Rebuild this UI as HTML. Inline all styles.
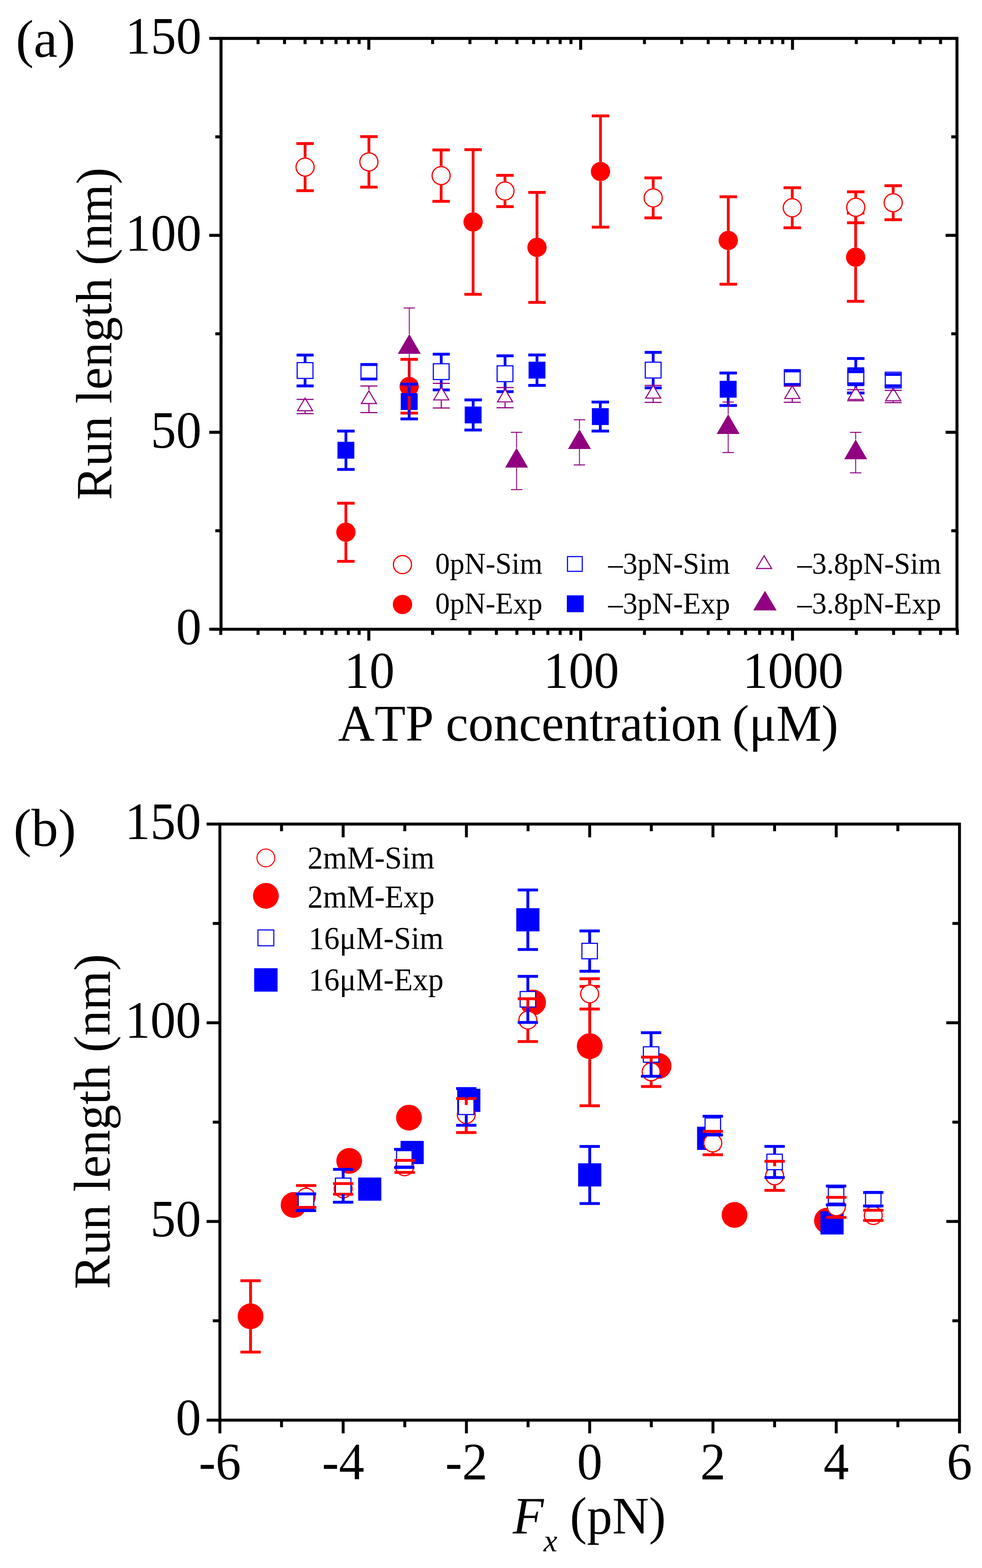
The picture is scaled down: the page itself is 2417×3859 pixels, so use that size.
<!DOCTYPE html>
<html><head><meta charset="utf-8"><title>Run length figure</title>
<style>
html,body{margin:0;padding:0;background:#fff;}
svg{display:block;}
text{font-family:"Liberation Serif","Times New Roman",serif;fill:#000;font-kerning:none;font-feature-settings:"kern" 0;}
</style></head><body>
<svg width="2417" height="3859" viewBox="0 0 2417 3859">
<rect width="2417" height="3859" fill="#fff"/>
<path d="M544,94.5 H2355.4 V1548.6 H544 Z" fill="none" stroke="#000" stroke-width="7.4" stroke-linejoin="miter"/>
<line x1="515.0" y1="1548.6" x2="544.0" y2="1548.6" stroke="#000" stroke-width="7.4" stroke-linecap="butt"/>
<line x1="515.0" y1="1063.9" x2="544.0" y2="1063.9" stroke="#000" stroke-width="7.4" stroke-linecap="butt"/>
<line x1="515.0" y1="579.2" x2="544.0" y2="579.2" stroke="#000" stroke-width="7.4" stroke-linecap="butt"/>
<line x1="515.0" y1="94.5" x2="544.0" y2="94.5" stroke="#000" stroke-width="7.4" stroke-linecap="butt"/>
<line x1="530.0" y1="1306.2" x2="544.0" y2="1306.2" stroke="#000" stroke-width="7.4" stroke-linecap="butt"/>
<line x1="530.0" y1="821.5" x2="544.0" y2="821.5" stroke="#000" stroke-width="7.4" stroke-linecap="butt"/>
<line x1="530.0" y1="336.8" x2="544.0" y2="336.8" stroke="#000" stroke-width="7.4" stroke-linecap="butt"/>
<line x1="2327.4" y1="1063.9" x2="2355.4" y2="1063.9" stroke="#000" stroke-width="7.4" stroke-linecap="butt"/>
<line x1="2327.4" y1="579.2" x2="2355.4" y2="579.2" stroke="#000" stroke-width="7.4" stroke-linecap="butt"/>
<line x1="2341.4" y1="1306.2" x2="2355.4" y2="1306.2" stroke="#000" stroke-width="7.4" stroke-linecap="butt"/>
<line x1="2341.4" y1="821.5" x2="2355.4" y2="821.5" stroke="#000" stroke-width="7.4" stroke-linecap="butt"/>
<line x1="2341.4" y1="336.8" x2="2355.4" y2="336.8" stroke="#000" stroke-width="7.4" stroke-linecap="butt"/>
<line x1="543.4" y1="1548.6" x2="543.4" y2="1562.6" stroke="#000" stroke-width="7.4" stroke-linecap="butt"/>
<line x1="635.2" y1="1548.6" x2="635.2" y2="1562.6" stroke="#000" stroke-width="7.4" stroke-linecap="butt"/>
<line x1="635.2" y1="94.5" x2="635.2" y2="108.5" stroke="#000" stroke-width="7.4" stroke-linecap="butt"/>
<line x1="700.3" y1="1548.6" x2="700.3" y2="1562.6" stroke="#000" stroke-width="7.4" stroke-linecap="butt"/>
<line x1="700.3" y1="94.5" x2="700.3" y2="108.5" stroke="#000" stroke-width="7.4" stroke-linecap="butt"/>
<line x1="750.8" y1="1548.6" x2="750.8" y2="1562.6" stroke="#000" stroke-width="7.4" stroke-linecap="butt"/>
<line x1="750.8" y1="94.5" x2="750.8" y2="108.5" stroke="#000" stroke-width="7.4" stroke-linecap="butt"/>
<line x1="792.1" y1="1548.6" x2="792.1" y2="1562.6" stroke="#000" stroke-width="7.4" stroke-linecap="butt"/>
<line x1="792.1" y1="94.5" x2="792.1" y2="108.5" stroke="#000" stroke-width="7.4" stroke-linecap="butt"/>
<line x1="827.0" y1="1548.6" x2="827.0" y2="1562.6" stroke="#000" stroke-width="7.4" stroke-linecap="butt"/>
<line x1="827.0" y1="94.5" x2="827.0" y2="108.5" stroke="#000" stroke-width="7.4" stroke-linecap="butt"/>
<line x1="857.3" y1="1548.6" x2="857.3" y2="1562.6" stroke="#000" stroke-width="7.4" stroke-linecap="butt"/>
<line x1="857.3" y1="94.5" x2="857.3" y2="108.5" stroke="#000" stroke-width="7.4" stroke-linecap="butt"/>
<line x1="883.9" y1="1548.6" x2="883.9" y2="1562.6" stroke="#000" stroke-width="7.4" stroke-linecap="butt"/>
<line x1="883.9" y1="94.5" x2="883.9" y2="108.5" stroke="#000" stroke-width="7.4" stroke-linecap="butt"/>
<line x1="907.8" y1="1548.6" x2="907.8" y2="1576.6" stroke="#000" stroke-width="7.4" stroke-linecap="butt"/>
<line x1="907.8" y1="94.5" x2="907.8" y2="122.5" stroke="#000" stroke-width="7.4" stroke-linecap="butt"/>
<line x1="1064.8" y1="1548.6" x2="1064.8" y2="1562.6" stroke="#000" stroke-width="7.4" stroke-linecap="butt"/>
<line x1="1064.8" y1="94.5" x2="1064.8" y2="108.5" stroke="#000" stroke-width="7.4" stroke-linecap="butt"/>
<line x1="1156.6" y1="1548.6" x2="1156.6" y2="1562.6" stroke="#000" stroke-width="7.4" stroke-linecap="butt"/>
<line x1="1156.6" y1="94.5" x2="1156.6" y2="108.5" stroke="#000" stroke-width="7.4" stroke-linecap="butt"/>
<line x1="1221.7" y1="1548.6" x2="1221.7" y2="1562.6" stroke="#000" stroke-width="7.4" stroke-linecap="butt"/>
<line x1="1221.7" y1="94.5" x2="1221.7" y2="108.5" stroke="#000" stroke-width="7.4" stroke-linecap="butt"/>
<line x1="1272.2" y1="1548.6" x2="1272.2" y2="1562.6" stroke="#000" stroke-width="7.4" stroke-linecap="butt"/>
<line x1="1272.2" y1="94.5" x2="1272.2" y2="108.5" stroke="#000" stroke-width="7.4" stroke-linecap="butt"/>
<line x1="1313.5" y1="1548.6" x2="1313.5" y2="1562.6" stroke="#000" stroke-width="7.4" stroke-linecap="butt"/>
<line x1="1313.5" y1="94.5" x2="1313.5" y2="108.5" stroke="#000" stroke-width="7.4" stroke-linecap="butt"/>
<line x1="1348.4" y1="1548.6" x2="1348.4" y2="1562.6" stroke="#000" stroke-width="7.4" stroke-linecap="butt"/>
<line x1="1348.4" y1="94.5" x2="1348.4" y2="108.5" stroke="#000" stroke-width="7.4" stroke-linecap="butt"/>
<line x1="1378.7" y1="1548.6" x2="1378.7" y2="1562.6" stroke="#000" stroke-width="7.4" stroke-linecap="butt"/>
<line x1="1378.7" y1="94.5" x2="1378.7" y2="108.5" stroke="#000" stroke-width="7.4" stroke-linecap="butt"/>
<line x1="1405.3" y1="1548.6" x2="1405.3" y2="1562.6" stroke="#000" stroke-width="7.4" stroke-linecap="butt"/>
<line x1="1405.3" y1="94.5" x2="1405.3" y2="108.5" stroke="#000" stroke-width="7.4" stroke-linecap="butt"/>
<line x1="1429.2" y1="1548.6" x2="1429.2" y2="1576.6" stroke="#000" stroke-width="7.4" stroke-linecap="butt"/>
<line x1="1429.2" y1="94.5" x2="1429.2" y2="122.5" stroke="#000" stroke-width="7.4" stroke-linecap="butt"/>
<line x1="1586.2" y1="1548.6" x2="1586.2" y2="1562.6" stroke="#000" stroke-width="7.4" stroke-linecap="butt"/>
<line x1="1586.2" y1="94.5" x2="1586.2" y2="108.5" stroke="#000" stroke-width="7.4" stroke-linecap="butt"/>
<line x1="1678.0" y1="1548.6" x2="1678.0" y2="1562.6" stroke="#000" stroke-width="7.4" stroke-linecap="butt"/>
<line x1="1678.0" y1="94.5" x2="1678.0" y2="108.5" stroke="#000" stroke-width="7.4" stroke-linecap="butt"/>
<line x1="1743.1" y1="1548.6" x2="1743.1" y2="1562.6" stroke="#000" stroke-width="7.4" stroke-linecap="butt"/>
<line x1="1743.1" y1="94.5" x2="1743.1" y2="108.5" stroke="#000" stroke-width="7.4" stroke-linecap="butt"/>
<line x1="1793.6" y1="1548.6" x2="1793.6" y2="1562.6" stroke="#000" stroke-width="7.4" stroke-linecap="butt"/>
<line x1="1793.6" y1="94.5" x2="1793.6" y2="108.5" stroke="#000" stroke-width="7.4" stroke-linecap="butt"/>
<line x1="1834.9" y1="1548.6" x2="1834.9" y2="1562.6" stroke="#000" stroke-width="7.4" stroke-linecap="butt"/>
<line x1="1834.9" y1="94.5" x2="1834.9" y2="108.5" stroke="#000" stroke-width="7.4" stroke-linecap="butt"/>
<line x1="1869.8" y1="1548.6" x2="1869.8" y2="1562.6" stroke="#000" stroke-width="7.4" stroke-linecap="butt"/>
<line x1="1869.8" y1="94.5" x2="1869.8" y2="108.5" stroke="#000" stroke-width="7.4" stroke-linecap="butt"/>
<line x1="1900.1" y1="1548.6" x2="1900.1" y2="1562.6" stroke="#000" stroke-width="7.4" stroke-linecap="butt"/>
<line x1="1900.1" y1="94.5" x2="1900.1" y2="108.5" stroke="#000" stroke-width="7.4" stroke-linecap="butt"/>
<line x1="1926.7" y1="1548.6" x2="1926.7" y2="1562.6" stroke="#000" stroke-width="7.4" stroke-linecap="butt"/>
<line x1="1926.7" y1="94.5" x2="1926.7" y2="108.5" stroke="#000" stroke-width="7.4" stroke-linecap="butt"/>
<line x1="1950.6" y1="1548.6" x2="1950.6" y2="1576.6" stroke="#000" stroke-width="7.4" stroke-linecap="butt"/>
<line x1="1950.6" y1="94.5" x2="1950.6" y2="122.5" stroke="#000" stroke-width="7.4" stroke-linecap="butt"/>
<line x1="2107.6" y1="1548.6" x2="2107.6" y2="1562.6" stroke="#000" stroke-width="7.4" stroke-linecap="butt"/>
<line x1="2107.6" y1="94.5" x2="2107.6" y2="108.5" stroke="#000" stroke-width="7.4" stroke-linecap="butt"/>
<line x1="2199.4" y1="1548.6" x2="2199.4" y2="1562.6" stroke="#000" stroke-width="7.4" stroke-linecap="butt"/>
<line x1="2199.4" y1="94.5" x2="2199.4" y2="108.5" stroke="#000" stroke-width="7.4" stroke-linecap="butt"/>
<line x1="2264.5" y1="1548.6" x2="2264.5" y2="1562.6" stroke="#000" stroke-width="7.4" stroke-linecap="butt"/>
<line x1="2264.5" y1="94.5" x2="2264.5" y2="108.5" stroke="#000" stroke-width="7.4" stroke-linecap="butt"/>
<line x1="2315.0" y1="1548.6" x2="2315.0" y2="1562.6" stroke="#000" stroke-width="7.4" stroke-linecap="butt"/>
<line x1="2315.0" y1="94.5" x2="2315.0" y2="108.5" stroke="#000" stroke-width="7.4" stroke-linecap="butt"/>
<line x1="2356.3" y1="1548.6" x2="2356.3" y2="1562.6" stroke="#000" stroke-width="7.4" stroke-linecap="butt"/>
<circle cx="851.3" cy="1309.8" r="23.75" fill="#ff0000"/>
<circle cx="1007.1" cy="951.1" r="23.75" fill="#ff0000"/>
<circle cx="1164.4" cy="546.3" r="23.75" fill="#ff0000"/>
<circle cx="1321.7" cy="608.8" r="23.75" fill="#ff0000"/>
<circle cx="1478.0" cy="422.1" r="23.75" fill="#ff0000"/>
<circle cx="1792.5" cy="591.8" r="23.75" fill="#ff0000"/>
<circle cx="2106.0" cy="633.0" r="23.75" fill="#ff0000"/>
<rect x="830.6" y="1087.3" width="41.5" height="41.5" fill="#0000ff"/>
<rect x="986.4" y="967.5" width="41.5" height="41.5" fill="#0000ff"/>
<rect x="1143.8" y="1000.5" width="41.5" height="41.5" fill="#0000ff"/>
<rect x="1301.0" y="890.2" width="41.5" height="41.5" fill="#0000ff"/>
<rect x="1456.8" y="1004.5" width="41.5" height="41.5" fill="#0000ff"/>
<rect x="1771.5" y="937.2" width="41.5" height="41.5" fill="#0000ff"/>
<rect x="2085.6" y="904.0" width="41.5" height="41.5" fill="#0000ff"/>
<polygon points="1007.4,822.3 979.1,870.8 1035.7,870.8" fill="#900080"/>
<polygon points="1271.4,1102.3 1243.2,1150.8 1299.7,1150.8" fill="#900080"/>
<polygon points="1426.2,1056.5 1398.0,1105.0 1454.5,1105.0" fill="#900080"/>
<polygon points="1792.3,1019.4 1764.0,1067.9 1820.5,1067.9" fill="#900080"/>
<polygon points="2106.1,1081.7 2077.8,1130.2 2134.3,1130.2" fill="#900080"/>
<line x1="851.3" y1="1238.4" x2="851.3" y2="1286.0" stroke="#ff0000" stroke-width="6.8" stroke-linecap="butt"/>
<rect x="829.8" y="1234.9" width="43.0" height="7.0" fill="#ff0000"/>
<line x1="851.3" y1="1333.5" x2="851.3" y2="1381.5" stroke="#ff0000" stroke-width="6.8" stroke-linecap="butt"/>
<rect x="829.8" y="1378.0" width="43.0" height="7.0" fill="#ff0000"/>
<line x1="1007.1" y1="884.4" x2="1007.1" y2="927.4" stroke="#ff0000" stroke-width="6.8" stroke-linecap="butt"/>
<rect x="985.6" y="880.9" width="43.0" height="7.0" fill="#ff0000"/>
<line x1="1007.1" y1="974.9" x2="1007.1" y2="1016.7" stroke="#ff0000" stroke-width="6.8" stroke-linecap="butt"/>
<rect x="985.6" y="1013.2" width="43.0" height="7.0" fill="#ff0000"/>
<line x1="1164.4" y1="368.3" x2="1164.4" y2="522.5" stroke="#ff0000" stroke-width="6.8" stroke-linecap="butt"/>
<rect x="1142.9" y="364.8" width="43.0" height="7.0" fill="#ff0000"/>
<line x1="1164.4" y1="570.0" x2="1164.4" y2="724.3" stroke="#ff0000" stroke-width="6.8" stroke-linecap="butt"/>
<rect x="1142.9" y="720.8" width="43.0" height="7.0" fill="#ff0000"/>
<line x1="1321.7" y1="473.5" x2="1321.7" y2="585.0" stroke="#ff0000" stroke-width="6.8" stroke-linecap="butt"/>
<rect x="1300.2" y="470.0" width="43.0" height="7.0" fill="#ff0000"/>
<line x1="1321.7" y1="632.5" x2="1321.7" y2="744.2" stroke="#ff0000" stroke-width="6.8" stroke-linecap="butt"/>
<rect x="1300.2" y="740.7" width="43.0" height="7.0" fill="#ff0000"/>
<line x1="1478.0" y1="285.2" x2="1478.0" y2="398.4" stroke="#ff0000" stroke-width="6.8" stroke-linecap="butt"/>
<rect x="1456.5" y="281.7" width="43.0" height="7.0" fill="#ff0000"/>
<line x1="1478.0" y1="445.9" x2="1478.0" y2="559.0" stroke="#ff0000" stroke-width="6.8" stroke-linecap="butt"/>
<rect x="1456.5" y="555.5" width="43.0" height="7.0" fill="#ff0000"/>
<line x1="1792.5" y1="484.2" x2="1792.5" y2="568.0" stroke="#ff0000" stroke-width="6.8" stroke-linecap="butt"/>
<rect x="1771.0" y="480.7" width="43.0" height="7.0" fill="#ff0000"/>
<line x1="1792.5" y1="615.5" x2="1792.5" y2="699.5" stroke="#ff0000" stroke-width="6.8" stroke-linecap="butt"/>
<rect x="1771.0" y="696.0" width="43.0" height="7.0" fill="#ff0000"/>
<line x1="2106.0" y1="524.5" x2="2106.0" y2="609.2" stroke="#ff0000" stroke-width="6.8" stroke-linecap="butt"/>
<rect x="2084.5" y="521.0" width="43.0" height="7.0" fill="#ff0000"/>
<line x1="2106.0" y1="656.8" x2="2106.0" y2="741.5" stroke="#ff0000" stroke-width="6.8" stroke-linecap="butt"/>
<rect x="2084.5" y="738.0" width="43.0" height="7.0" fill="#ff0000"/>
<line x1="851.4" y1="1060.9" x2="851.4" y2="1087.3" stroke="#0000ff" stroke-width="6.8" stroke-linecap="butt"/>
<rect x="829.9" y="1057.4" width="43.0" height="7.0" fill="#0000ff"/>
<line x1="851.4" y1="1128.8" x2="851.4" y2="1155.3" stroke="#0000ff" stroke-width="6.8" stroke-linecap="butt"/>
<rect x="829.9" y="1151.8" width="43.0" height="7.0" fill="#0000ff"/>
<line x1="1007.1" y1="945.3" x2="1007.1" y2="967.5" stroke="#0000ff" stroke-width="6.8" stroke-linecap="butt"/>
<rect x="985.6" y="941.8" width="43.0" height="7.0" fill="#0000ff"/>
<line x1="1007.1" y1="1009.0" x2="1007.1" y2="1031.0" stroke="#0000ff" stroke-width="6.8" stroke-linecap="butt"/>
<rect x="985.6" y="1027.5" width="43.0" height="7.0" fill="#0000ff"/>
<line x1="1164.6" y1="984.2" x2="1164.6" y2="1000.5" stroke="#0000ff" stroke-width="6.8" stroke-linecap="butt"/>
<rect x="1143.1" y="980.7" width="43.0" height="7.0" fill="#0000ff"/>
<line x1="1164.6" y1="1042.0" x2="1164.6" y2="1058.3" stroke="#0000ff" stroke-width="6.8" stroke-linecap="butt"/>
<rect x="1143.1" y="1054.8" width="43.0" height="7.0" fill="#0000ff"/>
<line x1="1321.7" y1="873.6" x2="1321.7" y2="890.2" stroke="#0000ff" stroke-width="6.8" stroke-linecap="butt"/>
<rect x="1300.2" y="870.1" width="43.0" height="7.0" fill="#0000ff"/>
<line x1="1321.7" y1="931.8" x2="1321.7" y2="948.5" stroke="#0000ff" stroke-width="6.8" stroke-linecap="butt"/>
<rect x="1300.2" y="945.0" width="43.0" height="7.0" fill="#0000ff"/>
<line x1="1477.5" y1="989.5" x2="1477.5" y2="1004.5" stroke="#0000ff" stroke-width="6.8" stroke-linecap="butt"/>
<rect x="1456.0" y="986.0" width="43.0" height="7.0" fill="#0000ff"/>
<line x1="1477.5" y1="1046.0" x2="1477.5" y2="1060.9" stroke="#0000ff" stroke-width="6.8" stroke-linecap="butt"/>
<rect x="1456.0" y="1057.4" width="43.0" height="7.0" fill="#0000ff"/>
<line x1="1792.3" y1="918.0" x2="1792.3" y2="937.2" stroke="#0000ff" stroke-width="6.8" stroke-linecap="butt"/>
<rect x="1770.8" y="914.5" width="43.0" height="7.0" fill="#0000ff"/>
<line x1="1792.3" y1="978.8" x2="1792.3" y2="998.0" stroke="#0000ff" stroke-width="6.8" stroke-linecap="butt"/>
<rect x="1770.8" y="994.5" width="43.0" height="7.0" fill="#0000ff"/>
<line x1="2106.3" y1="882.3" x2="2106.3" y2="904.0" stroke="#0000ff" stroke-width="6.8" stroke-linecap="butt"/>
<rect x="2084.8" y="878.8" width="43.0" height="7.0" fill="#0000ff"/>
<line x1="2106.3" y1="945.5" x2="2106.3" y2="967.1" stroke="#0000ff" stroke-width="6.8" stroke-linecap="butt"/>
<rect x="2084.8" y="963.6" width="43.0" height="7.0" fill="#0000ff"/>
<line x1="1007.4" y1="758.0" x2="1007.4" y2="822.3" stroke="#900080" stroke-width="2.2" stroke-linecap="butt"/>
<rect x="993.4" y="756.8" width="28.0" height="2.4" fill="#900080"/>
<line x1="1007.4" y1="870.8" x2="1007.4" y2="950.9" stroke="#900080" stroke-width="2.2" stroke-linecap="butt"/>
<rect x="993.4" y="949.7" width="28.0" height="2.4" fill="#900080"/>
<line x1="1271.4" y1="1064.0" x2="1271.4" y2="1102.3" stroke="#900080" stroke-width="2.2" stroke-linecap="butt"/>
<rect x="1257.4" y="1062.8" width="28.0" height="2.4" fill="#900080"/>
<line x1="1271.4" y1="1150.8" x2="1271.4" y2="1205.0" stroke="#900080" stroke-width="2.2" stroke-linecap="butt"/>
<rect x="1257.4" y="1203.8" width="28.0" height="2.4" fill="#900080"/>
<line x1="1426.2" y1="1033.1" x2="1426.2" y2="1056.5" stroke="#900080" stroke-width="2.2" stroke-linecap="butt"/>
<rect x="1412.2" y="1031.9" width="28.0" height="2.4" fill="#900080"/>
<line x1="1426.2" y1="1105.0" x2="1426.2" y2="1144.2" stroke="#900080" stroke-width="2.2" stroke-linecap="butt"/>
<rect x="1412.2" y="1143.0" width="28.0" height="2.4" fill="#900080"/>
<line x1="1792.3" y1="989.5" x2="1792.3" y2="1019.4" stroke="#900080" stroke-width="2.2" stroke-linecap="butt"/>
<rect x="1778.3" y="988.3" width="28.0" height="2.4" fill="#900080"/>
<line x1="1792.3" y1="1067.9" x2="1792.3" y2="1113.8" stroke="#900080" stroke-width="2.2" stroke-linecap="butt"/>
<rect x="1778.3" y="1112.6" width="28.0" height="2.4" fill="#900080"/>
<line x1="2106.1" y1="1064.1" x2="2106.1" y2="1081.7" stroke="#900080" stroke-width="2.2" stroke-linecap="butt"/>
<rect x="2092.1" y="1062.9" width="28.0" height="2.4" fill="#900080"/>
<line x1="2106.1" y1="1130.2" x2="2106.1" y2="1163.7" stroke="#900080" stroke-width="2.2" stroke-linecap="butt"/>
<rect x="2092.1" y="1162.5" width="28.0" height="2.4" fill="#900080"/>
<circle cx="750.9" cy="411.2" r="22.25" fill="#fff" stroke="#ff0000" stroke-width="3"/>
<line x1="750.9" y1="353.3" x2="750.9" y2="387.4" stroke="#ff0000" stroke-width="6.8" stroke-linecap="butt"/>
<rect x="729.4" y="349.8" width="43.0" height="7.0" fill="#ff0000"/>
<line x1="750.9" y1="434.9" x2="750.9" y2="469.3" stroke="#ff0000" stroke-width="6.8" stroke-linecap="butt"/>
<rect x="729.4" y="465.8" width="43.0" height="7.0" fill="#ff0000"/>
<circle cx="908.0" cy="398.4" r="22.25" fill="#fff" stroke="#ff0000" stroke-width="3"/>
<line x1="908.0" y1="336.2" x2="908.0" y2="374.6" stroke="#ff0000" stroke-width="6.8" stroke-linecap="butt"/>
<rect x="886.5" y="332.7" width="43.0" height="7.0" fill="#ff0000"/>
<line x1="908.0" y1="422.1" x2="908.0" y2="460.6" stroke="#ff0000" stroke-width="6.8" stroke-linecap="butt"/>
<rect x="886.5" y="457.1" width="43.0" height="7.0" fill="#ff0000"/>
<circle cx="1085.8" cy="432.2" r="22.25" fill="#fff" stroke="#ff0000" stroke-width="3"/>
<line x1="1085.8" y1="369.0" x2="1085.8" y2="408.4" stroke="#ff0000" stroke-width="6.8" stroke-linecap="butt"/>
<rect x="1064.3" y="365.5" width="43.0" height="7.0" fill="#ff0000"/>
<line x1="1085.8" y1="455.9" x2="1085.8" y2="495.5" stroke="#ff0000" stroke-width="6.8" stroke-linecap="butt"/>
<rect x="1064.3" y="492.0" width="43.0" height="7.0" fill="#ff0000"/>
<circle cx="1242.9" cy="470.0" r="22.25" fill="#fff" stroke="#ff0000" stroke-width="3"/>
<line x1="1242.9" y1="431.5" x2="1242.9" y2="446.2" stroke="#ff0000" stroke-width="6.8" stroke-linecap="butt"/>
<rect x="1221.4" y="428.0" width="43.0" height="7.0" fill="#ff0000"/>
<line x1="1242.9" y1="493.8" x2="1242.9" y2="508.5" stroke="#ff0000" stroke-width="6.8" stroke-linecap="butt"/>
<rect x="1221.4" y="505.0" width="43.0" height="7.0" fill="#ff0000"/>
<circle cx="1607.7" cy="487.0" r="22.25" fill="#fff" stroke="#ff0000" stroke-width="3"/>
<line x1="1607.7" y1="437.8" x2="1607.7" y2="463.2" stroke="#ff0000" stroke-width="6.8" stroke-linecap="butt"/>
<rect x="1586.2" y="434.3" width="43.0" height="7.0" fill="#ff0000"/>
<line x1="1607.7" y1="510.8" x2="1607.7" y2="536.2" stroke="#ff0000" stroke-width="6.8" stroke-linecap="butt"/>
<rect x="1586.2" y="532.7" width="43.0" height="7.0" fill="#ff0000"/>
<circle cx="1950.0" cy="511.3" r="22.25" fill="#fff" stroke="#ff0000" stroke-width="3"/>
<line x1="1950.0" y1="462.0" x2="1950.0" y2="487.6" stroke="#ff0000" stroke-width="6.8" stroke-linecap="butt"/>
<rect x="1928.5" y="458.5" width="43.0" height="7.0" fill="#ff0000"/>
<line x1="1950.0" y1="535.0" x2="1950.0" y2="560.6" stroke="#ff0000" stroke-width="6.8" stroke-linecap="butt"/>
<rect x="1928.5" y="557.1" width="43.0" height="7.0" fill="#ff0000"/>
<circle cx="2106.3" cy="510.1" r="22.25" fill="#fff" stroke="#ff0000" stroke-width="3"/>
<line x1="2106.3" y1="472.1" x2="2106.3" y2="486.4" stroke="#ff0000" stroke-width="6.8" stroke-linecap="butt"/>
<rect x="2084.8" y="468.6" width="43.0" height="7.0" fill="#ff0000"/>
<line x1="2106.3" y1="533.9" x2="2106.3" y2="548.2" stroke="#ff0000" stroke-width="6.8" stroke-linecap="butt"/>
<rect x="2084.8" y="544.7" width="43.0" height="7.0" fill="#ff0000"/>
<circle cx="2198.4" cy="498.9" r="22.25" fill="#fff" stroke="#ff0000" stroke-width="3"/>
<line x1="2198.4" y1="457.0" x2="2198.4" y2="475.1" stroke="#ff0000" stroke-width="6.8" stroke-linecap="butt"/>
<rect x="2176.9" y="453.5" width="43.0" height="7.0" fill="#ff0000"/>
<line x1="2198.4" y1="522.6" x2="2198.4" y2="540.7" stroke="#ff0000" stroke-width="6.8" stroke-linecap="butt"/>
<rect x="2176.9" y="537.2" width="43.0" height="7.0" fill="#ff0000"/>
<rect x="731.4" y="892.4" width="38.9" height="38.9" fill="#fff" stroke="#0000ff" stroke-width="2.7"/>
<line x1="750.9" y1="873.9" x2="750.9" y2="891.1" stroke="#0000ff" stroke-width="6.8" stroke-linecap="butt"/>
<rect x="729.9" y="870.4" width="42.0" height="7.0" fill="#0000ff"/>
<line x1="750.9" y1="932.7" x2="750.9" y2="949.8" stroke="#0000ff" stroke-width="6.8" stroke-linecap="butt"/>
<rect x="729.9" y="946.3" width="42.0" height="7.0" fill="#0000ff"/>
<rect x="888.5" y="895.1" width="38.9" height="38.9" fill="#fff" stroke="#0000ff" stroke-width="2.7"/>
<rect x="887.0" y="893.7" width="42.0" height="7.0" fill="#0000ff"/>
<rect x="887.0" y="929.3" width="42.0" height="7.0" fill="#0000ff"/>
<rect x="1066.5" y="895.2" width="38.9" height="38.9" fill="#fff" stroke="#0000ff" stroke-width="2.7"/>
<line x1="1086.0" y1="871.7" x2="1086.0" y2="893.9" stroke="#0000ff" stroke-width="6.8" stroke-linecap="butt"/>
<rect x="1065.0" y="868.2" width="42.0" height="7.0" fill="#0000ff"/>
<line x1="1086.0" y1="935.5" x2="1086.0" y2="959.6" stroke="#0000ff" stroke-width="6.8" stroke-linecap="butt"/>
<rect x="1065.0" y="956.1" width="42.0" height="7.0" fill="#0000ff"/>
<rect x="1223.6" y="900.3" width="38.9" height="38.9" fill="#fff" stroke="#0000ff" stroke-width="2.7"/>
<line x1="1243.1" y1="875.7" x2="1243.1" y2="899.0" stroke="#0000ff" stroke-width="6.8" stroke-linecap="butt"/>
<rect x="1222.1" y="872.2" width="42.0" height="7.0" fill="#0000ff"/>
<line x1="1243.1" y1="940.6" x2="1243.1" y2="963.9" stroke="#0000ff" stroke-width="6.8" stroke-linecap="butt"/>
<rect x="1222.1" y="960.4" width="42.0" height="7.0" fill="#0000ff"/>
<rect x="1588.2" y="891.4" width="38.9" height="38.9" fill="#fff" stroke="#0000ff" stroke-width="2.7"/>
<line x1="1607.7" y1="867.2" x2="1607.7" y2="890.1" stroke="#0000ff" stroke-width="6.8" stroke-linecap="butt"/>
<rect x="1586.7" y="863.7" width="42.0" height="7.0" fill="#0000ff"/>
<line x1="1607.7" y1="931.7" x2="1607.7" y2="954.6" stroke="#0000ff" stroke-width="6.8" stroke-linecap="butt"/>
<rect x="1586.7" y="951.1" width="42.0" height="7.0" fill="#0000ff"/>
<rect x="1930.5" y="909.8" width="38.9" height="38.9" fill="#fff" stroke="#0000ff" stroke-width="2.7"/>
<rect x="1929.0" y="909.5" width="42.0" height="7.0" fill="#0000ff"/>
<rect x="1929.0" y="942.7" width="42.0" height="7.0" fill="#0000ff"/>
<rect x="2087.1" y="910.0" width="38.9" height="38.9" fill="#fff" stroke="#0000ff" stroke-width="2.7"/>
<rect x="2085.5" y="911.3" width="42.0" height="7.0" fill="#0000ff"/>
<rect x="2085.5" y="941.0" width="42.0" height="7.0" fill="#0000ff"/>
<rect x="2179.0" y="916.0" width="38.9" height="38.9" fill="#fff" stroke="#0000ff" stroke-width="2.7"/>
<rect x="2177.4" y="918.0" width="42.0" height="7.0" fill="#0000ff"/>
<rect x="2177.4" y="946.0" width="42.0" height="7.0" fill="#0000ff"/>
<polygon points="750.9,979.8 732.3,1010.9 769.5,1010.9" fill="#fff" stroke="#900080" stroke-width="2.6" stroke-linejoin="miter"/>
<rect x="729.9" y="981.6" width="42.0" height="2.8" fill="#900080"/>
<line x1="750.9" y1="1012.2" x2="750.9" y2="1018.0" stroke="#900080" stroke-width="2.8" stroke-linecap="butt"/>
<rect x="729.9" y="1016.6" width="42.0" height="2.8" fill="#900080"/>
<polygon points="908.0,962.0 889.4,993.1 926.6,993.1" fill="#fff" stroke="#900080" stroke-width="2.6" stroke-linejoin="miter"/>
<line x1="908.0" y1="950.0" x2="908.0" y2="959.4" stroke="#900080" stroke-width="2.8" stroke-linecap="butt"/>
<rect x="887.0" y="948.6" width="42.0" height="2.8" fill="#900080"/>
<line x1="908.0" y1="994.4" x2="908.0" y2="1015.4" stroke="#900080" stroke-width="2.8" stroke-linecap="butt"/>
<rect x="887.0" y="1014.0" width="42.0" height="2.8" fill="#900080"/>
<polygon points="1086.2,953.1 1067.6,984.2 1104.8,984.2" fill="#fff" stroke="#900080" stroke-width="2.6" stroke-linejoin="miter"/>
<line x1="1086.2" y1="943.5" x2="1086.2" y2="950.5" stroke="#900080" stroke-width="2.8" stroke-linecap="butt"/>
<rect x="1065.2" y="942.1" width="42.0" height="2.8" fill="#900080"/>
<line x1="1086.2" y1="985.5" x2="1086.2" y2="1004.1" stroke="#900080" stroke-width="2.8" stroke-linecap="butt"/>
<rect x="1065.2" y="1002.7" width="42.0" height="2.8" fill="#900080"/>
<polygon points="1243.1,957.9 1224.5,989.0 1261.7,989.0" fill="#fff" stroke="#900080" stroke-width="2.6" stroke-linejoin="miter"/>
<line x1="1243.1" y1="953.8" x2="1243.1" y2="955.3" stroke="#900080" stroke-width="2.8" stroke-linecap="butt"/>
<rect x="1222.1" y="952.4" width="42.0" height="2.8" fill="#900080"/>
<line x1="1243.1" y1="990.3" x2="1243.1" y2="1003.5" stroke="#900080" stroke-width="2.8" stroke-linecap="butt"/>
<rect x="1222.1" y="1002.1" width="42.0" height="2.8" fill="#900080"/>
<polygon points="1607.7,948.7 1589.1,979.8 1626.3,979.8" fill="#fff" stroke="#900080" stroke-width="2.6" stroke-linejoin="miter"/>
<rect x="1586.7" y="947.1" width="42.0" height="2.8" fill="#900080"/>
<line x1="1607.7" y1="981.1" x2="1607.7" y2="990.3" stroke="#900080" stroke-width="2.8" stroke-linecap="butt"/>
<rect x="1586.7" y="988.9" width="42.0" height="2.8" fill="#900080"/>
<polygon points="1950.0,949.6 1931.4,980.7 1968.6,980.7" fill="#fff" stroke="#900080" stroke-width="2.6" stroke-linejoin="miter"/>
<rect x="1929.0" y="949.0" width="42.0" height="2.8" fill="#900080"/>
<line x1="1950.0" y1="982.0" x2="1950.0" y2="990.1" stroke="#900080" stroke-width="2.8" stroke-linecap="butt"/>
<rect x="1929.0" y="988.7" width="42.0" height="2.8" fill="#900080"/>
<polygon points="2106.3,951.9 2087.7,983.0 2124.9,983.0" fill="#fff" stroke="#900080" stroke-width="2.6" stroke-linejoin="miter"/>
<rect x="2085.3" y="957.7" width="42.0" height="2.8" fill="#900080"/>
<line x1="2106.3" y1="984.3" x2="2106.3" y2="986.2" stroke="#900080" stroke-width="2.8" stroke-linecap="butt"/>
<rect x="2085.3" y="984.8" width="42.0" height="2.8" fill="#900080"/>
<polygon points="2198.4,955.1 2179.8,986.2 2217.0,986.2" fill="#fff" stroke="#900080" stroke-width="2.6" stroke-linejoin="miter"/>
<rect x="2177.4" y="959.4" width="42.0" height="2.8" fill="#900080"/>
<line x1="2198.4" y1="987.5" x2="2198.4" y2="990.9" stroke="#900080" stroke-width="2.8" stroke-linecap="butt"/>
<rect x="2177.4" y="989.5" width="42.0" height="2.8" fill="#900080"/>
<circle cx="990.6" cy="1389.5" r="22.30" fill="#fff" stroke="#ff0000" stroke-width="3"/>
<circle cx="990.6" cy="1487.7" r="23.80" fill="#ff0000"/>
<rect x="1396.8" y="1369.8" width="36.3" height="36.3" fill="#fff" stroke="#0000ff" stroke-width="2.7"/>
<rect x="1395.2" y="1465.2" width="41.5" height="41.5" fill="#0000ff"/>
<polygon points="1880.6,1367.8 1861.9,1399.1 1899.3,1399.1" fill="#fff" stroke="#900080" stroke-width="2.6" stroke-linejoin="miter"/>
<polygon points="1882.8,1454.0 1854.0,1502.2 1911.5,1502.2" fill="#900080"/>
<text transform="translate(1071.2,1411.5) scale(1,1.025)" text-anchor="start" style="font-size:72px;">0pN-Sim</text>
<text transform="translate(1071.2,1509.5) scale(1,1.025)" text-anchor="start" style="font-size:72px;">0pN-Exp</text>
<text transform="translate(1497.0,1411.5) scale(1,1.025)" text-anchor="start" style="font-size:72px;">–3pN-Sim</text>
<text transform="translate(1497.0,1509.5) scale(1,1.025)" text-anchor="start" style="font-size:72px;">–3pN-Exp</text>
<text transform="translate(1962.5,1411.5) scale(1,1.025)" text-anchor="start" style="font-size:72px;">–3.8pN-Sim</text>
<text transform="translate(1962.5,1509.5) scale(1,1.025)" text-anchor="start" style="font-size:72px;">–3.8pN-Exp</text>
<text transform="translate(496.0,1586.3) scale(1,1.025)" text-anchor="end" style="font-size:125px;">0</text>
<text transform="translate(496.0,1101.6) scale(1,1.025)" text-anchor="end" style="font-size:125px;">50</text>
<text transform="translate(496.0,616.9) scale(1,1.025)" text-anchor="end" style="font-size:125px;">100</text>
<text transform="translate(496.0,132.2) scale(1,1.025)" text-anchor="end" style="font-size:125px;">150</text>
<text transform="translate(909.3,1692.5) scale(1,1.03)" text-anchor="middle" style="font-size:124px;">10</text>
<text transform="translate(1430.7,1692.5) scale(1,1.03)" text-anchor="middle" style="font-size:124px;">100</text>
<text transform="translate(1952.1,1692.5) scale(1,1.03)" text-anchor="middle" style="font-size:124px;">1000</text>
<text transform="translate(0,1823) scale(1,1.022)" style="font-size:124.8px"><tspan x="832">ATP</tspan> <tspan x="1097.1">concentration</tspan> <tspan x="1802.3">(μM)</tspan></text>
<text transform="translate(273.7,1230.6) rotate(-90) scale(1,1.011)" style="font-size:123.8px">Run length (nm)</text>
<text transform="translate(38.9,140.4) scale(1,1.0)" text-anchor="start" style="font-size:132px;">(a)</text>
<path d="M541.2,2028.2 H2361.6 V3495.1 H541.2 Z" fill="none" stroke="#000" stroke-width="7.2" stroke-linejoin="miter"/>
<line x1="508.5" y1="3495.1" x2="541.2" y2="3495.1" stroke="#000" stroke-width="7.2" stroke-linecap="butt"/>
<line x1="508.5" y1="3006.1" x2="541.2" y2="3006.1" stroke="#000" stroke-width="7.2" stroke-linecap="butt"/>
<line x1="508.5" y1="2517.2" x2="541.2" y2="2517.2" stroke="#000" stroke-width="7.2" stroke-linecap="butt"/>
<line x1="508.5" y1="2028.2" x2="541.2" y2="2028.2" stroke="#000" stroke-width="7.2" stroke-linecap="butt"/>
<line x1="523.7" y1="3250.6" x2="541.2" y2="3250.6" stroke="#000" stroke-width="7.2" stroke-linecap="butt"/>
<line x1="523.7" y1="2761.7" x2="541.2" y2="2761.7" stroke="#000" stroke-width="7.2" stroke-linecap="butt"/>
<line x1="523.7" y1="2272.7" x2="541.2" y2="2272.7" stroke="#000" stroke-width="7.2" stroke-linecap="butt"/>
<line x1="2329.1" y1="3006.1" x2="2361.6" y2="3006.1" stroke="#000" stroke-width="7.2" stroke-linecap="butt"/>
<line x1="2329.1" y1="2517.2" x2="2361.6" y2="2517.2" stroke="#000" stroke-width="7.2" stroke-linecap="butt"/>
<line x1="2344.1" y1="3250.6" x2="2361.6" y2="3250.6" stroke="#000" stroke-width="7.2" stroke-linecap="butt"/>
<line x1="2344.1" y1="2761.7" x2="2361.6" y2="2761.7" stroke="#000" stroke-width="7.2" stroke-linecap="butt"/>
<line x1="2344.1" y1="2272.7" x2="2361.6" y2="2272.7" stroke="#000" stroke-width="7.2" stroke-linecap="butt"/>
<line x1="541.2" y1="3495.1" x2="541.2" y2="3527.6" stroke="#000" stroke-width="7.2" stroke-linecap="butt"/>
<line x1="692.9" y1="3495.1" x2="692.9" y2="3512.6" stroke="#000" stroke-width="7.2" stroke-linecap="butt"/>
<line x1="692.9" y1="2028.2" x2="692.9" y2="2045.7" stroke="#000" stroke-width="7.2" stroke-linecap="butt"/>
<line x1="844.6" y1="3495.1" x2="844.6" y2="3527.6" stroke="#000" stroke-width="7.2" stroke-linecap="butt"/>
<line x1="844.6" y1="2028.2" x2="844.6" y2="2060.7" stroke="#000" stroke-width="7.2" stroke-linecap="butt"/>
<line x1="996.3" y1="3495.1" x2="996.3" y2="3512.6" stroke="#000" stroke-width="7.2" stroke-linecap="butt"/>
<line x1="996.3" y1="2028.2" x2="996.3" y2="2045.7" stroke="#000" stroke-width="7.2" stroke-linecap="butt"/>
<line x1="1148.0" y1="3495.1" x2="1148.0" y2="3527.6" stroke="#000" stroke-width="7.2" stroke-linecap="butt"/>
<line x1="1148.0" y1="2028.2" x2="1148.0" y2="2060.7" stroke="#000" stroke-width="7.2" stroke-linecap="butt"/>
<line x1="1299.7" y1="3495.1" x2="1299.7" y2="3512.6" stroke="#000" stroke-width="7.2" stroke-linecap="butt"/>
<line x1="1299.7" y1="2028.2" x2="1299.7" y2="2045.7" stroke="#000" stroke-width="7.2" stroke-linecap="butt"/>
<line x1="1451.4" y1="3495.1" x2="1451.4" y2="3527.6" stroke="#000" stroke-width="7.2" stroke-linecap="butt"/>
<line x1="1451.4" y1="2028.2" x2="1451.4" y2="2060.7" stroke="#000" stroke-width="7.2" stroke-linecap="butt"/>
<line x1="1603.1" y1="3495.1" x2="1603.1" y2="3512.6" stroke="#000" stroke-width="7.2" stroke-linecap="butt"/>
<line x1="1603.1" y1="2028.2" x2="1603.1" y2="2045.7" stroke="#000" stroke-width="7.2" stroke-linecap="butt"/>
<line x1="1754.8" y1="3495.1" x2="1754.8" y2="3527.6" stroke="#000" stroke-width="7.2" stroke-linecap="butt"/>
<line x1="1754.8" y1="2028.2" x2="1754.8" y2="2060.7" stroke="#000" stroke-width="7.2" stroke-linecap="butt"/>
<line x1="1906.5" y1="3495.1" x2="1906.5" y2="3512.6" stroke="#000" stroke-width="7.2" stroke-linecap="butt"/>
<line x1="1906.5" y1="2028.2" x2="1906.5" y2="2045.7" stroke="#000" stroke-width="7.2" stroke-linecap="butt"/>
<line x1="2058.2" y1="3495.1" x2="2058.2" y2="3527.6" stroke="#000" stroke-width="7.2" stroke-linecap="butt"/>
<line x1="2058.2" y1="2028.2" x2="2058.2" y2="2060.7" stroke="#000" stroke-width="7.2" stroke-linecap="butt"/>
<line x1="2209.9" y1="3495.1" x2="2209.9" y2="3512.6" stroke="#000" stroke-width="7.2" stroke-linecap="butt"/>
<line x1="2209.9" y1="2028.2" x2="2209.9" y2="2045.7" stroke="#000" stroke-width="7.2" stroke-linecap="butt"/>
<line x1="2361.6" y1="3495.1" x2="2361.6" y2="3527.6" stroke="#000" stroke-width="7.2" stroke-linecap="butt"/>
<circle cx="616.7" cy="3239.5" r="31.75" fill="#ff0000"/>
<circle cx="722.6" cy="2965.5" r="31.75" fill="#ff0000"/>
<circle cx="859.5" cy="2857.1" r="31.75" fill="#ff0000"/>
<circle cx="1006.6" cy="2750.7" r="31.75" fill="#ff0000"/>
<circle cx="1312.0" cy="2467.3" r="31.75" fill="#ff0000"/>
<circle cx="1451.5" cy="2574.7" r="31.75" fill="#ff0000"/>
<circle cx="1621.0" cy="2623.5" r="31.75" fill="#ff0000"/>
<circle cx="1807.9" cy="2990.1" r="31.75" fill="#ff0000"/>
<circle cx="2035.4" cy="3004.2" r="31.75" fill="#ff0000"/>
<rect x="881.5" y="2898.0" width="57.0" height="57.0" fill="#0000ff"/>
<rect x="985.9" y="2807.9" width="57.0" height="57.0" fill="#0000ff"/>
<rect x="1125.3" y="2679.6" width="57.0" height="57.0" fill="#0000ff"/>
<rect x="1270.7" y="2235.2" width="57.0" height="57.0" fill="#0000ff"/>
<rect x="1423.0" y="2863.0" width="57.0" height="57.0" fill="#0000ff"/>
<rect x="1715.7" y="2773.0" width="57.0" height="57.0" fill="#0000ff"/>
<rect x="2019.4" y="2981.2" width="57.0" height="57.0" fill="#0000ff"/>
<line x1="616.7" y1="3152.0" x2="616.7" y2="3207.8" stroke="#ff0000" stroke-width="7" stroke-linecap="butt"/>
<rect x="591.7" y="3148.5" width="50.0" height="7.0" fill="#ff0000"/>
<line x1="616.7" y1="3271.2" x2="616.7" y2="3327.6" stroke="#ff0000" stroke-width="7" stroke-linecap="butt"/>
<rect x="591.7" y="3324.1" width="50.0" height="7.0" fill="#ff0000"/>
<line x1="1451.5" y1="2427.6" x2="1451.5" y2="2542.9" stroke="#ff0000" stroke-width="7" stroke-linecap="butt"/>
<rect x="1426.5" y="2424.1" width="50.0" height="7.0" fill="#ff0000"/>
<line x1="1451.5" y1="2606.4" x2="1451.5" y2="2721.4" stroke="#ff0000" stroke-width="7" stroke-linecap="butt"/>
<rect x="1426.5" y="2717.9" width="50.0" height="7.0" fill="#ff0000"/>
<line x1="1299.2" y1="2190.3" x2="1299.2" y2="2235.2" stroke="#0000ff" stroke-width="7" stroke-linecap="butt"/>
<rect x="1274.2" y="2186.8" width="50.0" height="7.0" fill="#0000ff"/>
<line x1="1299.2" y1="2292.2" x2="1299.2" y2="2336.8" stroke="#0000ff" stroke-width="7" stroke-linecap="butt"/>
<rect x="1274.2" y="2333.3" width="50.0" height="7.0" fill="#0000ff"/>
<line x1="1451.5" y1="2821.5" x2="1451.5" y2="2863.0" stroke="#0000ff" stroke-width="7" stroke-linecap="butt"/>
<rect x="1426.5" y="2818.0" width="50.0" height="7.0" fill="#0000ff"/>
<line x1="1451.5" y1="2920.0" x2="1451.5" y2="2962.0" stroke="#0000ff" stroke-width="7" stroke-linecap="butt"/>
<rect x="1426.5" y="2958.5" width="50.0" height="7.0" fill="#0000ff"/>
<circle cx="753.6" cy="2946.3" r="22.00" fill="#fff" stroke="#ff0000" stroke-width="3"/>
<circle cx="844.7" cy="2925.8" r="22.00" fill="#fff" stroke="#ff0000" stroke-width="3"/>
<circle cx="996.0" cy="2871.5" r="22.00" fill="#fff" stroke="#ff0000" stroke-width="3"/>
<circle cx="1147.6" cy="2743.0" r="22.00" fill="#fff" stroke="#ff0000" stroke-width="3"/>
<circle cx="1299.2" cy="2510.5" r="22.00" fill="#fff" stroke="#ff0000" stroke-width="3"/>
<circle cx="1451.3" cy="2446.0" r="22.00" fill="#fff" stroke="#ff0000" stroke-width="3"/>
<circle cx="1602.7" cy="2637.8" r="22.00" fill="#fff" stroke="#ff0000" stroke-width="3"/>
<circle cx="1754.4" cy="2813.0" r="22.00" fill="#fff" stroke="#ff0000" stroke-width="3"/>
<circle cx="1906.6" cy="2893.8" r="22.00" fill="#fff" stroke="#ff0000" stroke-width="3"/>
<circle cx="2058.5" cy="2970.0" r="22.00" fill="#fff" stroke="#ff0000" stroke-width="3"/>
<circle cx="2149.4" cy="2991.5" r="22.00" fill="#fff" stroke="#ff0000" stroke-width="3"/>
<rect x="734.2" y="2938.4" width="38.1" height="38.1" fill="#fff" stroke="#0000ff" stroke-width="2.7"/>
<rect x="825.6" y="2899.4" width="38.1" height="38.1" fill="#fff" stroke="#0000ff" stroke-width="2.7"/>
<rect x="976.0" y="2831.9" width="38.1" height="38.1" fill="#fff" stroke="#0000ff" stroke-width="2.7"/>
<rect x="1128.5" y="2704.9" width="38.1" height="38.1" fill="#fff" stroke="#0000ff" stroke-width="2.7"/>
<rect x="1280.2" y="2440.2" width="38.1" height="38.1" fill="#fff" stroke="#0000ff" stroke-width="2.7"/>
<rect x="1432.2" y="2321.6" width="38.1" height="38.1" fill="#fff" stroke="#0000ff" stroke-width="2.7"/>
<rect x="1583.5" y="2576.2" width="38.1" height="38.1" fill="#fff" stroke="#0000ff" stroke-width="2.7"/>
<rect x="1735.4" y="2751.4" width="38.1" height="38.1" fill="#fff" stroke="#0000ff" stroke-width="2.7"/>
<rect x="1887.5" y="2840.6" width="38.1" height="38.1" fill="#fff" stroke="#0000ff" stroke-width="2.7"/>
<rect x="2038.8" y="2922.9" width="38.1" height="38.1" fill="#fff" stroke="#0000ff" stroke-width="2.7"/>
<rect x="2130.3" y="2932.4" width="38.1" height="38.1" fill="#fff" stroke="#0000ff" stroke-width="2.7"/>
<line x1="753.6" y1="2917.7" x2="753.6" y2="2922.8" stroke="#ff0000" stroke-width="7" stroke-linecap="butt"/>
<rect x="728.6" y="2914.2" width="50.0" height="7.0" fill="#ff0000"/>
<line x1="753.6" y1="2969.8" x2="753.6" y2="2971.5" stroke="#ff0000" stroke-width="7" stroke-linecap="butt"/>
<rect x="728.6" y="2968.0" width="50.0" height="7.0" fill="#ff0000"/>
<rect x="819.7" y="2909.4" width="50.0" height="7.0" fill="#ff0000"/>
<rect x="819.7" y="2935.6" width="50.0" height="7.0" fill="#ff0000"/>
<rect x="971.0" y="2852.3" width="50.0" height="7.0" fill="#ff0000"/>
<rect x="971.0" y="2881.9" width="50.0" height="7.0" fill="#ff0000"/>
<line x1="1147.6" y1="2703.6" x2="1147.6" y2="2719.5" stroke="#ff0000" stroke-width="7" stroke-linecap="butt"/>
<rect x="1122.6" y="2700.1" width="50.0" height="7.0" fill="#ff0000"/>
<line x1="1147.6" y1="2766.5" x2="1147.6" y2="2787.3" stroke="#ff0000" stroke-width="7" stroke-linecap="butt"/>
<rect x="1122.6" y="2783.8" width="50.0" height="7.0" fill="#ff0000"/>
<line x1="1299.2" y1="2458.0" x2="1299.2" y2="2487.0" stroke="#ff0000" stroke-width="7" stroke-linecap="butt"/>
<rect x="1274.2" y="2454.5" width="50.0" height="7.0" fill="#ff0000"/>
<line x1="1299.2" y1="2534.0" x2="1299.2" y2="2563.3" stroke="#ff0000" stroke-width="7" stroke-linecap="butt"/>
<rect x="1274.2" y="2559.8" width="50.0" height="7.0" fill="#ff0000"/>
<line x1="1451.3" y1="2408.8" x2="1451.3" y2="2422.5" stroke="#ff0000" stroke-width="7" stroke-linecap="butt"/>
<rect x="1426.3" y="2405.3" width="50.0" height="7.0" fill="#ff0000"/>
<line x1="1451.3" y1="2469.5" x2="1451.3" y2="2483.3" stroke="#ff0000" stroke-width="7" stroke-linecap="butt"/>
<rect x="1426.3" y="2479.8" width="50.0" height="7.0" fill="#ff0000"/>
<line x1="1602.7" y1="2601.7" x2="1602.7" y2="2614.3" stroke="#ff0000" stroke-width="7" stroke-linecap="butt"/>
<rect x="1577.7" y="2598.2" width="50.0" height="7.0" fill="#ff0000"/>
<line x1="1602.7" y1="2661.3" x2="1602.7" y2="2674.0" stroke="#ff0000" stroke-width="7" stroke-linecap="butt"/>
<rect x="1577.7" y="2670.5" width="50.0" height="7.0" fill="#ff0000"/>
<line x1="1754.4" y1="2784.3" x2="1754.4" y2="2789.5" stroke="#ff0000" stroke-width="7" stroke-linecap="butt"/>
<rect x="1729.4" y="2780.8" width="50.0" height="7.0" fill="#ff0000"/>
<line x1="1754.4" y1="2836.5" x2="1754.4" y2="2841.9" stroke="#ff0000" stroke-width="7" stroke-linecap="butt"/>
<rect x="1729.4" y="2838.4" width="50.0" height="7.0" fill="#ff0000"/>
<line x1="1906.6" y1="2858.1" x2="1906.6" y2="2870.3" stroke="#ff0000" stroke-width="7" stroke-linecap="butt"/>
<rect x="1881.6" y="2854.6" width="50.0" height="7.0" fill="#ff0000"/>
<line x1="1906.6" y1="2917.3" x2="1906.6" y2="2929.6" stroke="#ff0000" stroke-width="7" stroke-linecap="butt"/>
<rect x="1881.6" y="2926.1" width="50.0" height="7.0" fill="#ff0000"/>
<rect x="2033.5" y="2943.3" width="50.0" height="7.0" fill="#ff0000"/>
<line x1="2058.5" y1="2993.5" x2="2058.5" y2="2996.1" stroke="#ff0000" stroke-width="7" stroke-linecap="butt"/>
<rect x="2033.5" y="2992.6" width="50.0" height="7.0" fill="#ff0000"/>
<rect x="2124.4" y="2975.0" width="50.0" height="7.0" fill="#ff0000"/>
<rect x="2124.4" y="3000.2" width="50.0" height="7.0" fill="#ff0000"/>
<rect x="728.2" y="2934.8" width="50.0" height="7.0" fill="#0000ff"/>
<line x1="753.2" y1="2977.9" x2="753.2" y2="2979.5" stroke="#0000ff" stroke-width="7" stroke-linecap="butt"/>
<rect x="728.2" y="2976.0" width="50.0" height="7.0" fill="#0000ff"/>
<line x1="844.6" y1="2877.9" x2="844.6" y2="2898.1" stroke="#0000ff" stroke-width="7" stroke-linecap="butt"/>
<rect x="819.6" y="2874.4" width="50.0" height="7.0" fill="#0000ff"/>
<line x1="844.6" y1="2938.9" x2="844.6" y2="2958.8" stroke="#0000ff" stroke-width="7" stroke-linecap="butt"/>
<rect x="819.6" y="2955.3" width="50.0" height="7.0" fill="#0000ff"/>
<line x1="995.0" y1="2828.6" x2="995.0" y2="2830.6" stroke="#0000ff" stroke-width="7" stroke-linecap="butt"/>
<rect x="970.0" y="2825.1" width="50.0" height="7.0" fill="#0000ff"/>
<line x1="995.0" y1="2871.4" x2="995.0" y2="2873.2" stroke="#0000ff" stroke-width="7" stroke-linecap="butt"/>
<rect x="970.0" y="2869.7" width="50.0" height="7.0" fill="#0000ff"/>
<line x1="1147.6" y1="2679.0" x2="1147.6" y2="2703.6" stroke="#0000ff" stroke-width="7" stroke-linecap="butt"/>
<rect x="1122.6" y="2675.5" width="50.0" height="7.0" fill="#0000ff"/>
<line x1="1147.6" y1="2744.4" x2="1147.6" y2="2769.4" stroke="#0000ff" stroke-width="7" stroke-linecap="butt"/>
<rect x="1122.6" y="2765.9" width="50.0" height="7.0" fill="#0000ff"/>
<line x1="1299.2" y1="2402.9" x2="1299.2" y2="2438.9" stroke="#0000ff" stroke-width="7" stroke-linecap="butt"/>
<rect x="1274.2" y="2399.4" width="50.0" height="7.0" fill="#0000ff"/>
<line x1="1299.2" y1="2479.7" x2="1299.2" y2="2516.3" stroke="#0000ff" stroke-width="7" stroke-linecap="butt"/>
<rect x="1274.2" y="2512.8" width="50.0" height="7.0" fill="#0000ff"/>
<line x1="1451.3" y1="2291.1" x2="1451.3" y2="2320.3" stroke="#0000ff" stroke-width="7" stroke-linecap="butt"/>
<rect x="1426.3" y="2287.6" width="50.0" height="7.0" fill="#0000ff"/>
<line x1="1451.3" y1="2361.1" x2="1451.3" y2="2390.3" stroke="#0000ff" stroke-width="7" stroke-linecap="butt"/>
<rect x="1426.3" y="2386.8" width="50.0" height="7.0" fill="#0000ff"/>
<line x1="1602.5" y1="2541.6" x2="1602.5" y2="2574.9" stroke="#0000ff" stroke-width="7" stroke-linecap="butt"/>
<rect x="1577.5" y="2538.1" width="50.0" height="7.0" fill="#0000ff"/>
<line x1="1602.5" y1="2615.7" x2="1602.5" y2="2648.8" stroke="#0000ff" stroke-width="7" stroke-linecap="butt"/>
<rect x="1577.5" y="2645.3" width="50.0" height="7.0" fill="#0000ff"/>
<line x1="1754.4" y1="2747.2" x2="1754.4" y2="2750.1" stroke="#0000ff" stroke-width="7" stroke-linecap="butt"/>
<rect x="1729.4" y="2743.7" width="50.0" height="7.0" fill="#0000ff"/>
<line x1="1754.4" y1="2790.9" x2="1754.4" y2="2793.3" stroke="#0000ff" stroke-width="7" stroke-linecap="butt"/>
<rect x="1729.4" y="2789.8" width="50.0" height="7.0" fill="#0000ff"/>
<line x1="1906.6" y1="2821.4" x2="1906.6" y2="2839.3" stroke="#0000ff" stroke-width="7" stroke-linecap="butt"/>
<rect x="1881.6" y="2817.9" width="50.0" height="7.0" fill="#0000ff"/>
<line x1="1906.6" y1="2880.1" x2="1906.6" y2="2898.0" stroke="#0000ff" stroke-width="7" stroke-linecap="butt"/>
<rect x="1881.6" y="2894.5" width="50.0" height="7.0" fill="#0000ff"/>
<line x1="2057.8" y1="2919.0" x2="2057.8" y2="2921.6" stroke="#0000ff" stroke-width="7" stroke-linecap="butt"/>
<rect x="2032.8" y="2915.5" width="50.0" height="7.0" fill="#0000ff"/>
<line x1="2057.8" y1="2962.4" x2="2057.8" y2="2965.3" stroke="#0000ff" stroke-width="7" stroke-linecap="butt"/>
<rect x="2032.8" y="2961.8" width="50.0" height="7.0" fill="#0000ff"/>
<rect x="2124.4" y="2931.4" width="50.0" height="7.0" fill="#0000ff"/>
<rect x="2124.4" y="2964.5" width="50.0" height="7.0" fill="#0000ff"/>
<circle cx="654.4" cy="2111.4" r="21.90" fill="#fff" stroke="#ff0000" stroke-width="2.6"/>
<circle cx="654.4" cy="2204.7" r="31.75" fill="#ff0000"/>
<rect x="634.9" y="2288.7" width="39.0" height="39.0" fill="#fff" stroke="#0000ff" stroke-width="2.6"/>
<rect x="625.6" y="2382.9" width="57.6" height="57.6" fill="#0000ff"/>
<text transform="translate(757.1,2137.2) scale(1,1.025)" text-anchor="start" style="font-size:76px;">2mM-Sim</text>
<text transform="translate(757.1,2232.5) scale(1,1.025)" text-anchor="start" style="font-size:76px;">2mM-Exp</text>
<text transform="translate(759.8,2335.4) scale(1,1.025)" text-anchor="start" style="font-size:76px;">16μM-Sim</text>
<text transform="translate(759.8,2436.5) scale(1,1.025)" text-anchor="start" style="font-size:76px;">16μM-Exp</text>
<text transform="translate(495.0,3531.8) scale(1,1.025)" text-anchor="end" style="font-size:125px;">0</text>
<text transform="translate(495.0,3042.8) scale(1,1.025)" text-anchor="end" style="font-size:125px;">50</text>
<text transform="translate(495.0,2553.9) scale(1,1.025)" text-anchor="end" style="font-size:125px;">100</text>
<text transform="translate(495.0,2064.9) scale(1,1.025)" text-anchor="end" style="font-size:125px;">150</text>
<text transform="translate(541.2,3641.0) scale(1,1.025)" text-anchor="middle" style="font-size:125px;">-6</text>
<text transform="translate(844.6,3641.0) scale(1,1.025)" text-anchor="middle" style="font-size:125px;">-4</text>
<text transform="translate(1148.0,3641.0) scale(1,1.025)" text-anchor="middle" style="font-size:125px;">-2</text>
<text transform="translate(1451.4,3641.0) scale(1,1.025)" text-anchor="middle" style="font-size:125px;">0</text>
<text transform="translate(1754.8,3641.0) scale(1,1.025)" text-anchor="middle" style="font-size:125px;">2</text>
<text transform="translate(2058.2,3641.0) scale(1,1.025)" text-anchor="middle" style="font-size:125px;">4</text>
<text transform="translate(2361.6,3641.0) scale(1,1.025)" text-anchor="middle" style="font-size:125px;">6</text>
<text transform="translate(1261.9,3773.6) scale(1,1.025)" text-anchor="start" style="font-size:125px;font-style:italic">F</text>
<text transform="translate(1338.1,3818.0) scale(1,1.025)" text-anchor="start" style="font-size:76px;font-style:italic">x</text>
<text transform="translate(1402.8,3774.0) scale(1,1.025)" text-anchor="start" style="font-size:125px;">(pN)</text>
<text transform="translate(269.5,3172.6) rotate(-90) scale(1,1.017)" style="font-size:124.8px">Run length (nm)</text>
<text transform="translate(33.2,2082.4) scale(1,1.0)" text-anchor="start" style="font-size:132px;">(b)</text>
</svg>
</body></html>
